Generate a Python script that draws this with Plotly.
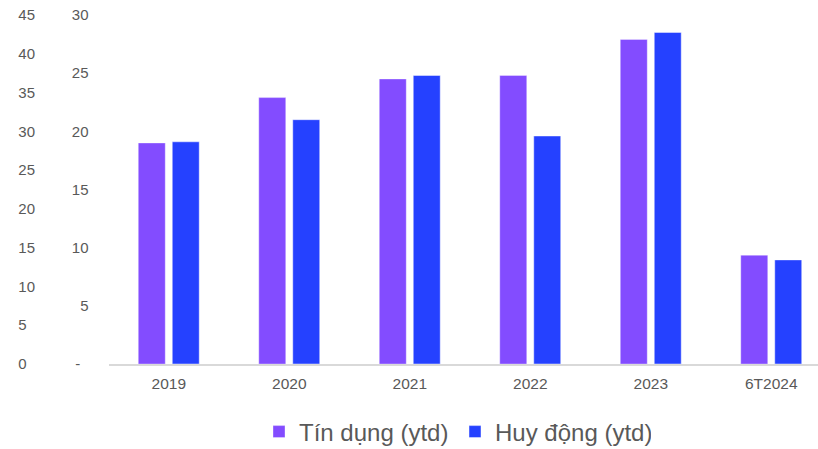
import plotly.graph_objects as go

categories = ["2019", "2020", "2021", "2022", "2023", "6T2024"]
tin_dung = [19.0, 22.9, 24.5, 24.8, 27.9, 9.35]
huy_dong = [19.1, 21.0, 24.8, 19.6, 28.5, 8.95]

inner_ticks = [0, 5, 10, 15, 20, 25, 30]
inner_text = ["-\u00a0\u00a0", "5", "10", "15", "20", "25", "30"]
outer_ticks = [0, 5, 10, 15, 20, 25, 30, 35, 40, 45]
outer_text = ["0\u00a0\u00a0", "5\u00a0\u00a0", "10", "15", "20", "25", "30", "35", "40", "45"]

W, H = 818, 449
FONT = "Arial, Liberation Sans, sans-serif"
GREY = "#595959"

fig = go.Figure()
fig.add_trace(go.Bar(
    x=categories, y=tin_dung, name="Tín dụng (ytd)",
    marker=dict(color="#834CFF", line=dict(color="rgba(255,255,255,0.35)", width=1)),
))
fig.add_trace(go.Bar(
    x=categories, y=huy_dong, name="Huy động (ytd)",
    marker=dict(color="#2541FF", line=dict(color="rgba(255,255,255,0.45)", width=1)),
))
# invisible carrier so the outer (secondary) axis is drawn
fig.add_trace(go.Scatter(
    x=[categories[0]], y=[0], yaxis="y2", mode="markers",
    marker=dict(opacity=0), showlegend=False, hoverinfo="skip",
))

y_bottom = 1 - 364 / H
y_top = 1 - 15 / H

fig.update_layout(
    width=W, height=H,
    margin=dict(l=0, r=0, t=0, b=0, autoexpand=False),
    paper_bgcolor="white", plot_bgcolor="white",
    font=dict(family=FONT, color=GREY, size=15),
    barmode="group", bargap=0.436, bargroupgap=0.206,
    showlegend=True,
    legend=dict(
        orientation="h", x=259 / W, xanchor="left", y=1 - 432 / H, yanchor="middle",
        entrywidth=151,
        font=dict(size=24, color=GREY, family=FONT),
    ),
    xaxis=dict(
        domain=[108.5 / W, 1], range=[-0.5, 5.388], type="category",
        showline=True, linecolor="#d9d9d9", linewidth=1.5,
        showgrid=False, ticks="", ticklabelstandoff=5,
        tickfont=dict(size=15.5, color=GREY, family=FONT),
    ),
    yaxis=dict(
        domain=[y_bottom, y_top], range=[0, 30],
        tickvals=inner_ticks, ticktext=inner_text,
        showgrid=False, zeroline=False, showline=False, ticks="",
        ticklabelstandoff=19,
        tickfont=dict(size=15, color=GREY, family=FONT),
    ),
    yaxis2=dict(
        domain=[y_bottom, y_top], range=[0, 45], overlaying="y",
        anchor="free", position=35 / W, side="left",
        tickvals=outer_ticks, ticktext=outer_text,
        showgrid=False, zeroline=False, showline=False, ticks="",
        tickfont=dict(size=15, color=GREY, family=FONT),
    ),
)

fig.write_html(
    "out.html",
    config={"displayModeBar": False},
    post_script="document.body.style.margin='0';document.body.style.overflow='hidden';",
)
